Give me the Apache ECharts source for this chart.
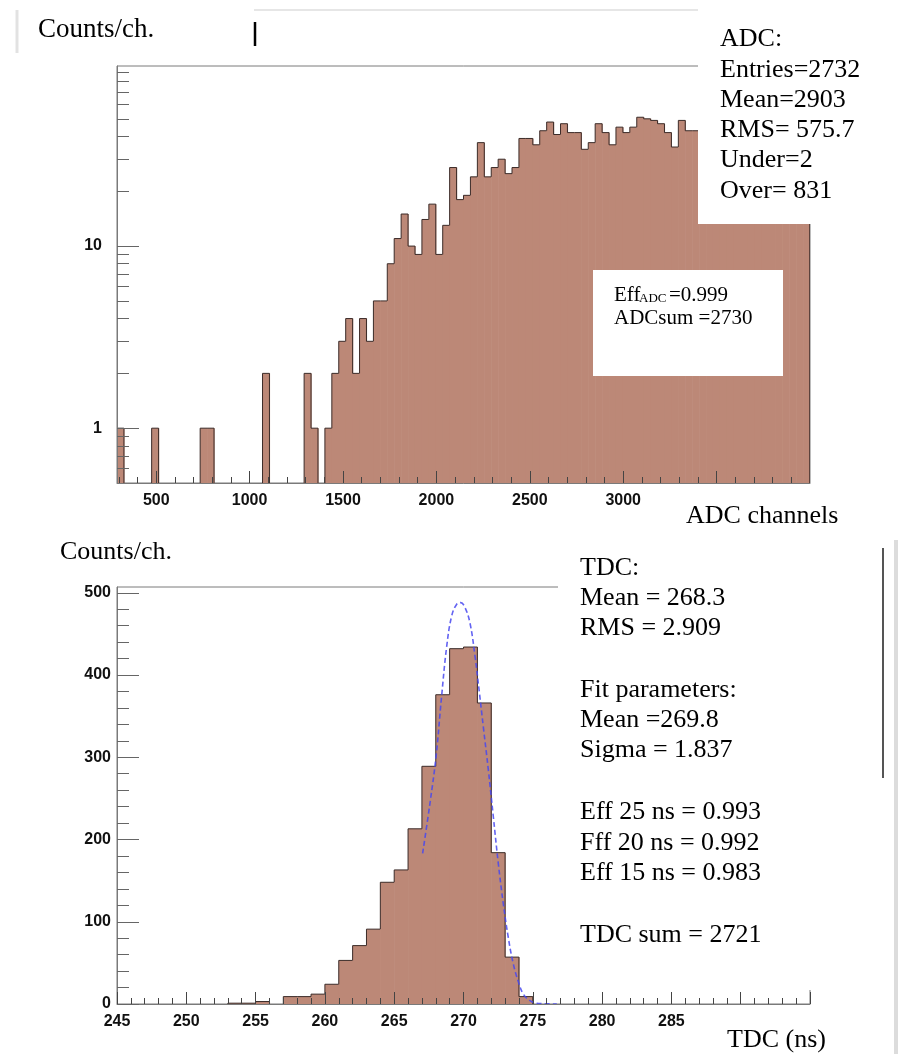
<!DOCTYPE html>
<html><head><meta charset="utf-8">
<script src="https://cdn.jsdelivr.net/npm/echarts@6/dist/echarts.min.js"></script>
<style>html,body{margin:0;padding:0;background:#fff}#c{width:907px;height:1054px}</style>
</head><body><div id="c"></div>
<script>
// ---------- ADC histogram (log y) ----------
const adcBinStart = 290;
const adcBinWidth = 37.1;
const adcCounts = [
  1,0,0,0,0,1,0,0,0,0,
  0,0,1,1,0,0,0,0,0,0,
  0,2,0,0,0,0,0,2,1,0,
  1,2,3,4,2,4,3,5,5,8,
  11,15,10,9,14,17,9,13,27,18,
  19,24,37,24,27,30,25,27,39,39,
  36,43,48,41,47,42,42,34,37,47,
  42,36,45,42,45,51,50,49,47,42,
  35,49,43,43,46,44,45,43,47,44,
  42,45,46,44,43,45,44,46,45,44
];
const adcXRange = [290, 4000];
const adcYRange = [0.5, 97.5];
const adcXLabels = [500, 1000, 1500, 2000, 2500, 3000];
const adcXMajorTicks = [500, 1000, 1500, 2000, 2500, 3000, 3500];
const adcXMinorTicks = [300,400,600,700,800,900,1100,1200,1300,1400,1600,1700,1800,1900,2100,2200,2300,2400,2600,2700,2800,2900,3100,3200,3300,3400,3600,3700,3800,3900];
const adcYLabels = [1, 10];
const adcYMinorTicks = [0.6,0.7,0.8,0.9,2,3,4,5,6,7,8,9,20,30,40,50,60,70,80,90];

// ---------- TDC histogram (linear y) ----------
const tdcBinStart = 245;
const tdcBinWidth = 1;
const tdcCounts = [
  0,0,0,0,0,0,0,0,1,1,
  3,0,9,9,12,24,53,71,91,148,
  163,213,289,376,432,434,366,184,57,9,
  0,0,0,0,0,0,0,0,0,0,
  0,0,0,0,0,0,0,0,0,0
];
const tdcXRange = [245, 295];
const tdcYRange = [0, 507];
const tdcXLabels = [245, 250, 255, 260, 265, 270, 275, 280, 285];
const tdcXMajorTicks = [245, 250, 255, 260, 265, 270, 275, 280, 285, 290, 295];
const tdcXMinorTicks = [246,247,248,249,251,252,253,254,256,257,258,259,261,262,263,264,266,267,268,269,271,272,273,274,276,277,278,279,281,282,283,284,286,287,288,289,291,292,293,294];
const tdcYLabels = [0, 100, 200, 300, 400, 500];
const tdcYMinorTicks = [20,40,60,80,120,140,160,180,220,240,260,280,320,340,360,380,420,440,460,480,500];

// Gaussian fit curve
const fitT = [267.05,267.58,268.02,268.42,268.79,269.15,269.51,269.80,270.11,270.47,270.83,271.15,271.43,271.79,272.15,272.51,272.87,273.23,273.59,273.96,274.32,274.80,275.28,276.73];
const fitY = [183,244,301,374,435,472,486,488,482,463,423,378,337,285,228,171,122,81,49,27,12,4,1,0];

const FILL = '#bc8877';
const EDGE = '#3b2b28';
const AXIS = '#7a7a7a';
const labelFont = {color:'#111', fontFamily:'Liberation Sans', fontWeight:'bold', fontSize:16};
const plainNum = v => String(v);

function binData(counts, start, width) {
  return counts.map((c, i) => [start + i * width, start + (i + 1) * width, c]);
}

function histRenderer(counts, base) {
  return function (params, api) {
    const i = params.dataIndex;
    const lo = api.value(0), hi = api.value(1), c = api.value(2);
    const prev = i > 0 ? counts[i - 1] : 0;
    const yc = c > 0 ? c : base;
    const yp = prev > 0 ? prev : base;
    const pLoTop = api.coord([lo, yc]);
    const pHiTop = api.coord([hi, yc]);
    const pLoBase = api.coord([lo, base]);
    const pLoPrev = api.coord([lo, yp]);
    const ch = [];
    if (c > 0) {
      ch.push({type:'rect', shape:{x:pLoTop[0], y:pLoTop[1], width:pHiTop[0]-pLoTop[0]+0.6, height:pLoBase[1]-pLoTop[1]}, style:{fill:FILL}});
    }
    ch.push({type:'line', shape:{x1:pLoPrev[0], y1:pLoPrev[1], x2:pLoTop[0], y2:pLoTop[1]}, style:{stroke:EDGE, lineWidth:1}});
    if (c > 0) ch.push({type:'line', shape:{x1:pLoTop[0], y1:pLoTop[1], x2:pHiTop[0], y2:pHiTop[1]}, style:{stroke:EDGE, lineWidth:1}});
    if (i === counts.length - 1 && c > 0) {
      const pHiBase = api.coord([hi, base]);
      ch.push({type:'line', shape:{x1:pHiTop[0], y1:pHiTop[1], x2:pHiBase[0], y2:pHiBase[1]}, style:{stroke:EDGE, lineWidth:1.5}});
    }
    return {type:'group', children:ch};
  };
}

function xAxisPair(grid, range, majors, minors, labels) {
  return [
    {type:'value', gridIndex:grid, min:range[0], max:range[1], position:'bottom', z:5,
     axisLine:{show:true, lineStyle:{color:AXIS, width:1}},
     axisTick:{show:true, inside:true, length:12, customValues:majors, lineStyle:{color:'#444'}},
     axisLabel:{show:true, customValues:labels, margin:10, formatter:plainNum, ...labelFont},
     splitLine:{show:false}},
    {type:'value', gridIndex:grid, min:range[0], max:range[1], position:'bottom', z:5,
     axisLine:{show:false},
     axisTick:{show:true, inside:true, length:6, customValues:minors, lineStyle:{color:'#444'}},
     axisLabel:{show:false}, splitLine:{show:false}}
  ];
}
function yAxisPair(grid, type, range, labels, minors, margin) {
  return [
    {type:type, gridIndex:grid, min:range[0], max:range[1], position:'left', z:5,
     axisLine:{show:true, lineStyle:{color:AXIS, width:1}},
     axisTick:{show:true, inside:true, length:22, customValues:labels, lineStyle:{color:'#666'}},
     axisLabel:{show:true, customValues:labels, margin:margin, formatter:plainNum, ...labelFont},
     splitLine:{show:false}},
    {type:type, gridIndex:grid, min:range[0], max:range[1], position:'left', z:5,
     axisLine:{show:false},
     axisTick:{show:true, inside:true, length:12, customValues:minors, lineStyle:{color:'#666'}},
     axisLabel:{show:false}, splitLine:{show:false}}
  ];
}

const serif = 'Liberation Serif';
function txt(x, y, s, size) {
  return {type:'text', x:x, y:y, z:101, style:{text:s, fontSize:size||26, fontFamily:serif, fill:'#000', verticalAlign:'middle', align:'left'}};
}
function box(x, y, w, h) {
  return {type:'rect', z:100, shape:{x:x, y:y, width:w, height:h}, style:{fill:'#fff'}};
}
function seg(x1, y1, x2, y2, color, w) {
  return {type:'line', z:102, shape:{x1:x1, y1:y1, x2:x2, y2:y2}, style:{stroke:color, lineWidth:w}};
}

const chart = echarts.init(document.getElementById('c'), null, {renderer:'canvas'});
chart.setOption({
  animation:false,
  backgroundColor:'#fff',
  grid:[
    {left:117, top:66, width:693, height:417, show:true, borderColor:AXIS, borderWidth:1, backgroundColor:'transparent', containLabel:false, outerBoundsMode:'none'},
    {left:117, top:587, width:693, height:417, show:true, borderColor:AXIS, borderWidth:1, backgroundColor:'transparent', containLabel:false, outerBoundsMode:'none'}
  ],
  xAxis:[
    ...xAxisPair(0, adcXRange, adcXMajorTicks, adcXMinorTicks, adcXLabels),
    ...xAxisPair(1, tdcXRange, tdcXMajorTicks, tdcXMinorTicks, tdcXLabels)
  ],
  yAxis:[
    ...yAxisPair(0, 'log', adcYRange, adcYLabels, adcYMinorTicks, 15),
    ...yAxisPair(1, 'value', tdcYRange, tdcYLabels, tdcYMinorTicks, 6)
  ],
  series:[
    {type:'custom', xAxisIndex:0, yAxisIndex:0, clip:true, z:2,
     data:binData(adcCounts, adcBinStart, adcBinWidth), encode:{x:[0,1], y:2},
     renderItem:histRenderer(adcCounts, adcYRange[0])},
    {type:'custom', xAxisIndex:2, yAxisIndex:2, clip:true, z:2,
     data:binData(tdcCounts, tdcBinStart, tdcBinWidth), encode:{x:[0,1], y:2},
     renderItem:histRenderer(tdcCounts, 0)},
    {type:'line', xAxisIndex:2, yAxisIndex:2, z:3, smooth:0.4, showSymbol:false, symbol:'none',
     data:fitT.map((t, i) => [t, fitY[i]]),
     lineStyle:{color:'#4848f0', width:1.6, type:[5,3], opacity:0.85}}
  ],
  graphic:[
    box(698, 0, 130, 224),
    box(593, 270, 190, 106),
    box(558, 545, 322, 445),
    seg(17, 10, 17, 53, '#e2e2e2', 3),
    seg(254, 10, 698, 10, '#e6e6e6', 2),
    txt(38, 30, 'Counts/ch.', 27),
    seg(255, 22, 255, 46, '#000', 2.5),
    txt(720, 39, 'ADC:', 26),
    txt(720, 70, 'Entries=2732', 26),
    txt(720, 100, 'Mean=2903', 26),
    txt(720, 130, 'RMS= 575.7', 26),
    txt(720, 160, 'Under=2', 26),
    txt(720, 191, 'Over= 831', 26),
    txt(614, 295, 'Eff', 21),
    txt(639, 298.5, 'ADC', 13),
    txt(669, 295, '=0.999', 21),
    txt(614, 318, 'ADCsum =2730', 21),
    txt(686, 516, 'ADC channels', 26),
    txt(60, 552, 'Counts/ch.', 26),
    txt(580, 568, 'TDC:', 26),
    txt(580, 598, 'Mean = 268.3', 26),
    txt(580, 628, 'RMS = 2.909', 26),
    txt(580, 690, 'Fit parameters:', 26),
    txt(580, 720, 'Mean =269.8', 26),
    txt(580, 750.5, 'Sigma = 1.837', 26),
    txt(580, 812, 'Eff 25 ns = 0.993', 26),
    txt(580, 843, 'Fff 20 ns = 0.992', 26),
    txt(580, 873, 'Eff 15 ns = 0.983', 26),
    txt(580, 935, 'TDC sum = 2721', 26),
    txt(727, 1040, 'TDC (ns)', 26),
    seg(883, 548, 883, 778, '#555', 2),
    seg(896, 540, 896, 1054, '#dcdcdc', 4)
  ]
});
</script></body></html>
